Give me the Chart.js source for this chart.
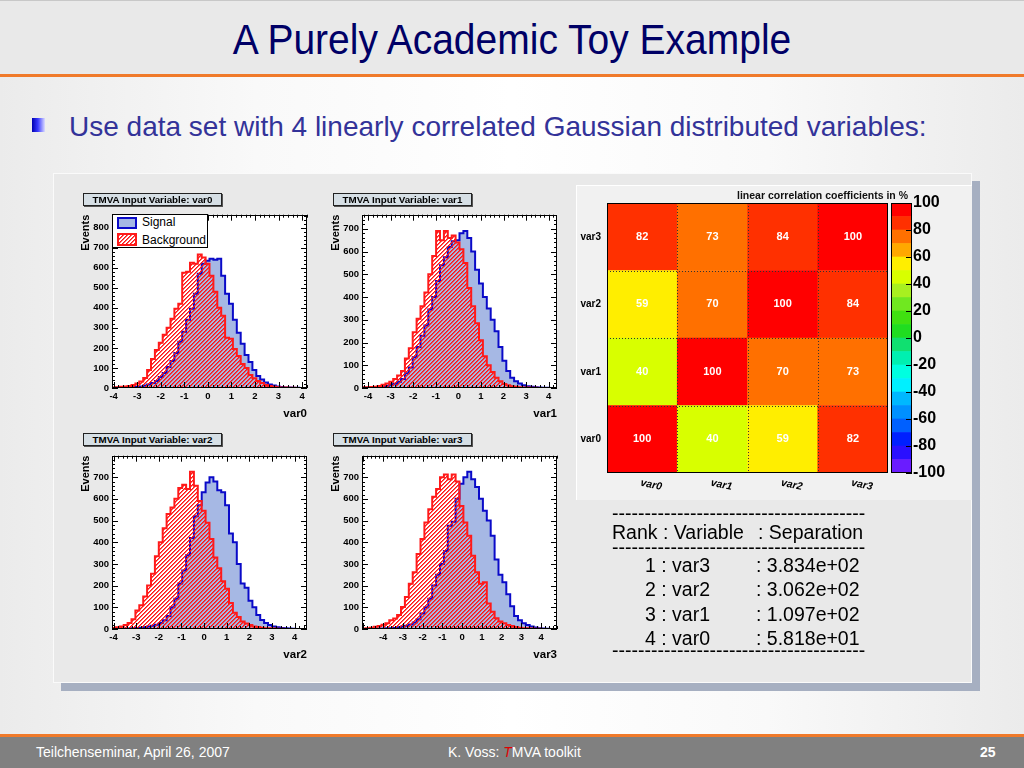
<!DOCTYPE html>
<html><head><meta charset="utf-8">
<script src="https://cdn.jsdelivr.net/npm/chart.js@4.4.0/dist/chart.umd.min.js"></script>
<style>
html,body{margin:0;padding:0;}
body{width:1024px;height:768px;position:relative;overflow:hidden;font-family:"Liberation Sans",Arial,Helvetica,sans-serif;
 background:linear-gradient(to right,#ebebeb 0%,#f9f9f9 25%,#ffffff 50%,#f9f9f9 75%,#ebebeb 100%);}
.abs{position:absolute;}
#header{left:0;top:0;width:1024px;height:73px;background:#e9e9e9;border-top:1px solid #c8c8c8;border-bottom:3px solid #f07a2a;}
#title{left:0;top:21px;width:1024px;text-align:center;font-size:39px;line-height:1;color:#000066;white-space:nowrap;transform:scaleY(1.08);transform-origin:50% 100%;}
#bullet{left:32px;top:118px;width:13px;height:14px;background:linear-gradient(to right,#0000b0 0%,#3a3aff 45%,#dcdcff 100%);}
#btext{left:69px;top:113px;font-size:28px;line-height:1;color:#333399;white-space:nowrap;}
#panel{left:53px;top:173px;width:919px;height:510px;background:#e9e9e9;border:1px solid #fafafa;box-sizing:border-box;box-shadow:8px 8px 0 #a6afc1;}
#mpanel{left:576px;top:185px;width:396px;height:315px;background:#f1f1f1;border-left:1px solid #ffffff;border-top:1px solid #ffffff;box-sizing:border-box;}
.tbox{height:13px;width:139px;background:#d6dfe5;border:1px solid #222;box-sizing:border-box;box-shadow:1px 1px 0 #555;font-weight:bold;font-size:9.8px;line-height:11px;text-align:center;color:#000;white-space:nowrap;}
canvas{position:absolute;}
#leg{left:112px;top:214px;width:96px;height:34px;background:#fff;border:1px solid #000;box-sizing:border-box;}
.sw{width:20px;box-sizing:border-box;}
.lt{font-size:12px;line-height:12px;color:#000;white-space:nowrap;}
#ctitle{left:700px;top:189px;width:208px;text-align:right;font-weight:bold;font-size:10.5px;line-height:12px;color:#111;white-space:nowrap;}
.tab{font-size:19.5px;line-height:1;color:#000;white-space:pre;}
#footer{left:0;top:734px;width:1024px;height:34px;background:#808080;border-top:3px solid #f07a2a;box-sizing:border-box;}
.ft{font-size:14px;line-height:1;color:#fff;white-space:nowrap;top:745px;}
</style></head>
<body>
<div id="header" class="abs"></div>
<div id="title" class="abs">A Purely Academic Toy Example</div>
<div id="bullet" class="abs"></div>
<div id="btext" class="abs">Use data set with 4 linearly correlated Gaussian distributed variables:</div>
<div id="panel" class="abs"></div>
<div id="mpanel" class="abs"></div>

<canvas id="h0" width="234" height="215" style="left:78px;top:206px"></canvas>
<canvas id="h1" width="234" height="215" style="left:328px;top:206px"></canvas>
<canvas id="h2" width="234" height="215" style="left:78px;top:447px"></canvas>
<canvas id="h3" width="234" height="215" style="left:328px;top:447px"></canvas>
<canvas id="cbar" width="87" height="314" style="left:885px;top:186px"></canvas>
<canvas id="corr" width="320" height="314" style="left:576px;top:186px"></canvas>

<div class="abs tbox" id="tb0" style="left:83px;top:193px"></div>
<div class="abs tbox" id="tb1" style="left:333px;top:193px"></div>
<div class="abs tbox" id="tb2" style="left:83px;top:433px"></div>
<div class="abs tbox" id="tb3" style="left:333px;top:433px"></div>

<div id="leg" class="abs"></div>
<div class="abs sw" style="left:117px;top:217px;height:12px;background:rgb(166,184,228);border:2px solid #0a0ac8;"></div>
<div class="abs lt" id="lsig" style="left:142px;top:216px"></div>
<canvas id="legHatch" width="20" height="13" style="left:117px;top:233px"></canvas>
<div class="abs lt" id="lbkg" style="left:142px;top:234px"></div>

<div id="ctitle" class="abs">linear correlation coefficients in %</div>

<div id="table"></div>

<div id="footer" class="abs"></div>
<div class="abs ft" style="left:36px;">Teilchenseminar, April 26, 2007</div>
<div class="abs ft" style="left:448px;">K. Voss: <span style="color:#e00000;font-style:italic">T</span>MVA toolkit</div>
<div class="abs ft" style="left:980px;font-weight:bold;">25</div>

<script>
// ---------------- data ----------------
const varNames = ['var0', 'var1', 'var2', 'var3'];
const legendLabels = ['Signal', 'Background'];
const xMin = [-4.07, -4.27, -4.07, -5.07];
const xMax = [4.21, 4.37, 4.55, 4.80];
const yMax = [864, 762, 799, 799];
const xTickLabels = [-4, -3, -2, -1, 0, 1, 2, 3, 4];
const yTickLabelsVar0 = [0, 100, 200, 300, 400, 500, 600, 700, 800];
const yTickLabelsOther = [0, 100, 200, 300, 400, 500, 600, 700];

const signalVar0 = [0,0,1,1,2,3,4,6,8,12, 18,25,35,55,75,105,135,175,230,280, 340,395,470,570,620,635,645,640,645,560, 470,420,340,275,220,165,130,90,60,42, 28,18,12,8,5,3,2,1,1,0];
const backgroundVar0 = [2,3,4,6,8,10,15,22,32,50, 90,145,190,225,265,300,345,395,420,575, 580,625,620,665,650,620,560,480,400,360, 250,245,195,160,120,100,65,48,35,25, 15,10,6,4,3,2,1,1,0,0];
const signalVar1 = [0,1,1,2,3,4,7,10,14,19, 28,40,65,90,135,180,230,275,345,400, 470,540,575,620,645,650,680,690,660,600, 520,460,400,350,300,250,180,120,75,45, 30,20,12,8,5,3,2,1,1,0];
const backgroundVar1 = [2,3,3,4,6,9,14,20,28,40, 55,75,130,175,245,305,360,420,500,580, 690,650,690,660,670,640,610,550,440,360, 285,210,140,100,70,45,30,18,12,8, 5,3,2,2,1,1,0,0,0,0];
const signalVar2 = [0,1,1,1,2,2,3,5,6,8, 11,15,20,28,40,60,100,140,210,270, 340,420,520,570,630,675,700,680,640,630, 570,440,400,300,210,190,130,100,65,42, 28,18,12,8,5,3,2,1,0,0];
const backgroundVar2 = [3,5,8,12,18,28,45,85,110,150, 200,255,335,400,465,530,560,600,650,665, 645,725,660,590,545,490,415,330,280,220, 185,120,75,55,35,25,18,12,9,6, 4,3,2,1,1,0,0,0,0,0];
const signalVar3 = [0,0,0,1,1,2,2,3,4,5, 8,11,15,21,30,45,72,100,140,200, 250,300,360,476,495,600,670,700,725,690, 655,600,545,500,430,320,250,215,160,105, 60,40,26,18,12,7,4,2,1,0];
const backgroundVar3 = [1,2,4,6,10,14,20,26,40,48, 64,102,148,209,262,346,415,491,552,610, 645,700,712,690,712,680,567,491,430,338, 262,209,216,117,79,49,35,26,18,14, 9,6,4,3,2,1,1,0,0,0];

// linear correlation coefficients in % (row = y variable, column = x variable)
const corrVar0 = [100, 40, 59, 82];
const corrVar1 = [40, 100, 70, 73];
const corrVar2 = [59, 70, 100, 84];
const corrVar3 = [82, 73, 84, 100];
const paletteTicks = [-100, -80, -60, -40, -20, 0, 20, 40, 60, 80, 100];
const paletteEdges = [-100,-90,-80,-70,-60,-50,-40,-30,-20,-10,0,10,20,30,40,50,60,70,80,90,100];

const rankNumbers = ['1', '2', '3', '4'];
const rankVariables = ['var3', 'var2', 'var1', 'var0'];
const rankSeparation = ['3.834e+02', '3.062e+02', '1.097e+02', '5.818e+01'];

// ---------------- styles ----------------
const FONT = '"Liberation Sans", Arial, Helvetica, sans-serif';
const SIG_LINE = '#0a0ac8';
const SIG_FILL = 'rgb(166,184,228)';
const BKG_LINE = '#ff1a1a';
const paletteColors = ['#6a1cff','#2a10ff','#0020ff','#0060ff','#0090ff','#00b8ff','#00f0ff','#00ffe0','#00f0b0','#10e070',
                       '#20dd20','#40e010','#70e820','#a8f020','#d8ff00','#ffee00','#ffa800','#ff7000','#ff3000','#ff0000'];

function colorFor(v) {
  for (let k = paletteEdges.length - 2; k >= 0; k--) if (v >= paletteEdges[k]) return paletteColors[k];
  return paletteColors[0];
}

// pixel-exact "/" hatch tile, created for a given 2d context
function makeHatch(ctx) {
  const c = document.createElement('canvas'); c.width = 4; c.height = 4;
  const g = c.getContext('2d');
  const img = g.createImageData(4, 4);
  for (let yy = 0; yy < 4; yy++) for (let xx = 0; xx < 4; xx++) {
    const m = (xx + yy) % 4;
    const a = m === 3 ? 255 : (m === 0 ? 170 : 0);
    const p = (yy * 4 + xx) * 4;
    img.data[p] = 255; img.data[p + 1] = 20; img.data[p + 2] = 20; img.data[p + 3] = a;
  }
  g.putImageData(img, 0, 0);
  return ctx.createPattern(c, 'repeat');
}

function histPoints(counts, lo, hi) {
  const w = (hi - lo) / counts.length;
  const pts = [{x: lo, y: 0}];
  counts.forEach((c, i) => pts.push({x: lo + i * w, y: c}));
  pts.push({x: hi, y: 0});
  return pts;
}

// ---------------- plugins ----------------
const whiteArea = {
  id: 'whiteArea',
  beforeDraw(chart) {
    const {ctx, chartArea: a} = chart;
    ctx.save(); ctx.fillStyle = '#fff';
    ctx.fillRect(a.left, a.top, a.right - a.left, a.bottom - a.top);
    ctx.restore();
  }
};
const rootFrame = {
  id: 'rootFrame',
  afterDatasetsDraw(chart, args, o) {
    const {ctx, chartArea: a, scales: {x, y}} = chart;
    ctx.save();
    ctx.strokeStyle = '#000'; ctx.lineWidth = 1;
    ctx.beginPath();
    for (let k = Math.ceil(x.min / o.xMinor - 1e-9); k * o.xMinor <= x.max + 1e-9; k++) {
      const v = k * o.xMinor;
      const px = Math.round(x.getPixelForValue(v)) + 0.5;
      const major = Math.abs(v / o.xMajor - Math.round(v / o.xMajor)) < 1e-6;
      const L = major ? 6 : 3;
      ctx.moveTo(px, a.bottom); ctx.lineTo(px, a.bottom - L);
      ctx.moveTo(px, a.top); ctx.lineTo(px, a.top + L);
    }
    for (let k = 0; k * o.yMinor <= y.max + 1e-9; k++) {
      const v = k * o.yMinor;
      const py = Math.round(y.getPixelForValue(v)) + 0.5;
      const major = (v % o.yMajor) === 0;
      const L = major ? 6 : 3;
      ctx.moveTo(a.left, py); ctx.lineTo(a.left + L, py);
      ctx.moveTo(a.right, py); ctx.lineTo(a.right - L, py);
    }
    ctx.stroke();
    ctx.strokeRect(Math.round(a.left) + 0.5, Math.round(a.top) + 0.5, Math.round(a.right - a.left) - 1, Math.round(a.bottom - a.top) - 1);
    ctx.restore();
  }
};

// ---------------- histograms ----------------
function makeHist(id, k, sig, bkg, yTicks) {
  const canvas = document.getElementById(id);
  const hatch = makeHatch(canvas.getContext('2d'));
  new Chart(canvas, {
    type: 'line',
    data: {datasets: [
      {label: legendLabels[0], data: histPoints(sig, xMin[k], xMax[k]), stepped: 'after', borderColor: SIG_LINE,
       backgroundColor: SIG_FILL, fill: 'origin', borderWidth: 2, pointRadius: 0, order: 2},
      {label: legendLabels[1], data: histPoints(bkg, xMin[k], xMax[k]), stepped: 'after', borderColor: BKG_LINE,
       backgroundColor: hatch, fill: 'origin', borderWidth: 2, pointRadius: 0, order: 1}
    ]},
    options: {
      responsive: false, animation: false, events: [],
      layout: {padding: {left: 0, right: 5, top: 7, bottom: 0}},
      plugins: {legend: {display: false}, tooltip: {enabled: false},
                rootFrame: {xMinor: 0.2, xMajor: 1, yMinor: 20, yMajor: 100}},
      scales: {
        x: {type: 'linear', min: xMin[k], max: xMax[k],
            afterBuildTicks: s => { s.ticks = xTickLabels.map(v => ({value: v})); },
            afterFit: s => { s.height = 33; },
            grid: {display: false, drawTicks: false}, border: {display: false},
            ticks: {autoSkip: false, maxRotation: 0, padding: 3, color: '#000', font: {family: FONT, size: 9.5, weight: 'bold'}},
            title: {display: true, text: varNames[k], align: 'end', color: '#000', font: {family: FONT, size: 11.5, weight: 'bold'}, padding: 0}},
        y: {type: 'linear', min: 0, max: yMax[k],
            afterBuildTicks: s => { s.ticks = yTicks.map(v => ({value: v})); },
            afterFit: s => { s.width = 34; },
            grid: {display: false, drawTicks: false}, border: {display: false},
            ticks: {autoSkip: false, padding: 3, color: '#000', font: {family: FONT, size: 9.5, weight: 'bold'}},
            title: {display: true, text: 'Events', align: 'end', color: '#000', font: {family: FONT, size: 11, weight: 'bold'}, padding: {top: 1, bottom: 0}}}
      }
    },
    plugins: [whiteArea, rootFrame]
  });
  document.getElementById('tb' + k).textContent = 'TMVA Input Variable: ' + varNames[k];
}
makeHist('h0', 0, signalVar0, backgroundVar0, yTickLabelsVar0);
makeHist('h1', 1, signalVar1, backgroundVar1, yTickLabelsOther);
makeHist('h2', 2, signalVar2, backgroundVar2, yTickLabelsOther);
makeHist('h3', 3, signalVar3, backgroundVar3, yTickLabelsOther);
document.getElementById('lsig').textContent = legendLabels[0];
document.getElementById('lbkg').textContent = legendLabels[1];
(function () {
  const c = document.getElementById('legHatch');
  const g = c.getContext('2d');
  g.fillStyle = '#fff'; g.fillRect(0, 0, c.width, c.height);
  g.fillStyle = makeHatch(g); g.fillRect(0, 0, c.width, c.height);
  g.strokeStyle = BKG_LINE; g.lineWidth = 2; g.strokeRect(1, 1, c.width - 2, c.height - 2);
})();

// ---------------- correlation matrix ----------------
const corrRows = [corrVar0, corrVar1, corrVar2, corrVar3];
const matrixDecor = {
  id: 'matrixDecor',
  afterDatasetsDraw(chart) {
    const {ctx, chartArea: a, scales: {x, y}} = chart;
    const half = (x.getPixelForValue(1) - x.getPixelForValue(0)) / 2;
    ctx.save();
    ctx.strokeStyle = '#333'; ctx.lineWidth = 1; ctx.setLineDash([1, 2]);
    ctx.beginPath();
    for (let i = 1; i < varNames.length; i++) {
      const px = Math.round(x.getPixelForValue(i) - half) + 0.5;
      ctx.moveTo(px, a.top); ctx.lineTo(px, a.bottom);
      const py = Math.round(y.getPixelForValue(i)) + 0.5;
      ctx.moveTo(a.left, py); ctx.lineTo(a.right, py);
    }
    ctx.stroke();
    ctx.setLineDash([]);
    ctx.strokeStyle = '#000';
    ctx.strokeRect(Math.round(a.left) + 0.5, Math.round(a.top) + 0.5, Math.round(a.right - a.left) - 1, Math.round(a.bottom - a.top) - 1);
    ctx.fillStyle = '#fff';
    ctx.font = 'bold 11px ' + FONT;
    ctx.textAlign = 'center'; ctx.textBaseline = 'middle';
    corrRows.forEach((row, j) => row.forEach((v, i) => {
      ctx.fillText(String(v), x.getPixelForValue(i), y.getPixelForValue(j + 0.5));
    }));
    ctx.fillStyle = '#000';
    ctx.font = 'italic bold 10.5px ' + FONT;
    varNames.forEach((n, i) => {
      ctx.save();
      ctx.translate(x.getPixelForValue(i) + 9, a.bottom + 12);
      ctx.rotate(12 * Math.PI / 180);
      ctx.fillText(n, 0, 0);
      ctx.restore();
    });
    ctx.restore();
  }
};
new Chart(document.getElementById('corr'), {
  type: 'bar',
  data: {labels: varNames, datasets: corrRows.map((row, j) => ({
    label: varNames[j], data: row.map(() => 1), backgroundColor: row.map(colorFor),
    borderWidth: 0, barPercentage: 1, categoryPercentage: 1}))},
  options: {
    responsive: false, animation: false, events: [],
    layout: {padding: {left: 0, right: 8, top: 17, bottom: 0}},
    plugins: {legend: {display: false}, tooltip: {enabled: false}},
    scales: {
      x: {type: 'category', stacked: true, grid: {display: false, drawTicks: false}, border: {display: false},
          ticks: {display: false}, afterFit: s => { s.height = 27; }},
      y: {type: 'linear', stacked: true, min: 0, max: varNames.length,
          afterBuildTicks: s => { s.ticks = varNames.map((_, i) => ({value: i + 0.5})); },
          afterFit: s => { s.width = 31; },
          grid: {display: false, drawTicks: false}, border: {display: false},
          ticks: {autoSkip: false, padding: 6, color: '#000', font: {family: FONT, size: 10, weight: 'bold'},
                  callback: v => varNames[Math.floor(v)]}}
    }
  },
  plugins: [matrixDecor]
});

// ---------------- palette (color bar) ----------------
const cbarDecor = {
  id: 'cbarDecor',
  afterDatasetsDraw(chart) {
    const {ctx, chartArea: a, scales: {y}} = chart;
    ctx.save();
    ctx.strokeStyle = '#000'; ctx.lineWidth = 1;
    ctx.strokeRect(Math.round(a.left) + 0.5, Math.round(a.top) + 0.5, Math.round(a.right - a.left) - 1, Math.round(a.bottom - a.top) - 1);
    ctx.beginPath();
    paletteTicks.forEach(v => {
      const py = Math.round(y.getPixelForValue(v)) + 0.5;
      ctx.moveTo(a.right - 6, py); ctx.lineTo(a.right, py);
    });
    ctx.stroke();
    ctx.restore();
  }
};
new Chart(document.getElementById('cbar'), {
  type: 'bar',
  data: {labels: [''], datasets: paletteColors.map((c, k) => ({
    data: [[paletteEdges[k], paletteEdges[k + 1]]], backgroundColor: c, borderWidth: 0,
    barPercentage: 1, categoryPercentage: 1, grouped: false}))},
  options: {
    responsive: false, animation: false, events: [],
    layout: {padding: {left: 6, right: 0, top: 17, bottom: 27}},
    plugins: {legend: {display: false}, tooltip: {enabled: false}},
    scales: {
      x: {display: false},
      y: {position: 'right', min: -100, max: 100,
          afterBuildTicks: s => { s.ticks = paletteTicks.map(v => ({value: v})); },
          afterFit: s => { s.width = 60; },
          grid: {display: false, drawTicks: false}, border: {display: false},
          ticks: {autoSkip: false, padding: 1, color: '#000', font: {family: FONT, size: 16, weight: 'bold'}}}
    }
  },
  plugins: [cbarDecor]
});

// ---------------- separation table ----------------
(function () {
  const t = document.getElementById('table');
  const dashes = '-'.repeat(39);
  function line(txt, left, top) {
    const d = document.createElement('div');
    d.className = 'abs tab'; d.style.left = left + 'px'; d.style.top = top + 'px';
    d.textContent = txt; t.appendChild(d);
  }
  line(dashes, 612, 504);
  line('Rank : Variable', 612, 522.5);
  line(': Separation', 758, 522.5);
  line(dashes, 612, 538);
  const tops = [555.5, 580, 604.5, 628.5];
  rankVariables.forEach((v, i) => {
    line(rankNumbers[i] + ' : ' + v, 645, tops[i]);
    line(': ' + rankSeparation[i], 756, tops[i]);
  });
  line(dashes, 612, 641);
})();
</script>
</body></html>
